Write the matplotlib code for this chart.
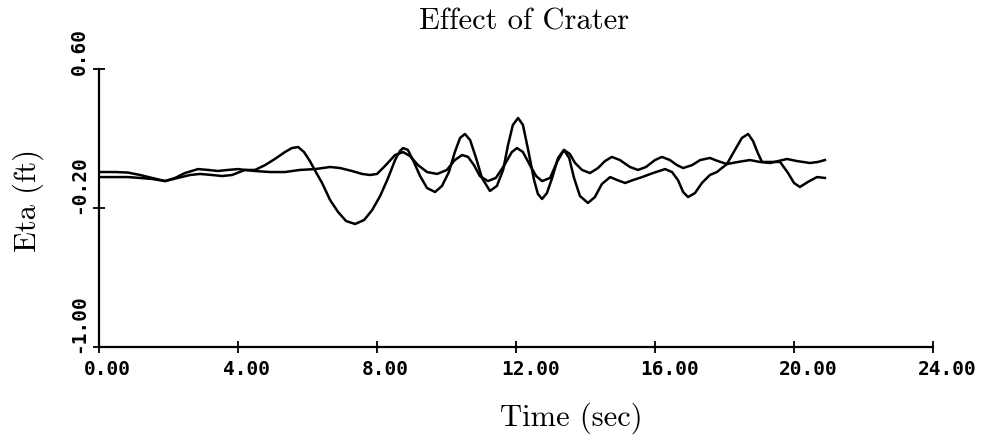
import matplotlib
matplotlib.use("Agg")
import matplotlib.pyplot as plt
from matplotlib.transforms import ScaledTranslation

# time (sec) and surface elevation (ft) for the two runs
t_crater = [0.00, 0.46, 0.83, 1.18, 1.53, 1.90, 2.19, 2.47, 2.85, 3.14, 3.42, 3.71,
            4.00, 4.20, 4.49, 4.78, 5.06, 5.35, 5.55, 5.73, 5.90, 6.07, 6.24, 6.42,
            6.65, 6.88, 7.11, 7.37, 7.63, 7.86, 8.09, 8.32, 8.52, 8.66, 8.75, 8.89,
            9.06, 9.24, 9.44, 9.67, 9.87, 10.07, 10.24, 10.39, 10.53, 10.68, 10.85,
            11.02, 11.25, 11.45, 11.63, 11.77, 11.91, 12.06, 12.20, 12.35, 12.52,
            12.63, 12.75, 12.89, 13.04, 13.21, 13.38, 13.53, 13.67, 13.84, 14.07,
            14.27, 14.47, 14.71, 14.91, 15.14, 15.37, 15.63, 15.94, 16.29, 16.49,
            16.66, 16.81, 16.95, 17.15, 17.35, 17.58, 17.78, 18.07, 18.30, 18.50,
            18.68, 18.82, 18.96, 19.08, 19.31, 19.60, 19.83, 20.00, 20.17, 20.40,
            20.66, 20.89]
eta_crater = [0.007, 0.007, 0.004, -0.010, -0.027, -0.045, -0.027, 0.001, 0.024, 0.019,
              0.013, 0.019, 0.024, 0.019, 0.019, 0.047, 0.082, 0.122, 0.145, 0.151,
              0.122, 0.070, 0.007, -0.056, -0.154, -0.223, -0.275, -0.292, -0.269,
              -0.212, -0.131, -0.027, 0.076, 0.128, 0.145, 0.134, 0.065, -0.016,
              -0.085, -0.108, -0.073, 0.007, 0.122, 0.203, 0.226, 0.191, 0.088,
              -0.027, -0.102, -0.073, 0.019, 0.162, 0.278, 0.318, 0.278, 0.134,
              -0.039, -0.119, -0.148, -0.114, -0.027, 0.088, 0.134, 0.088, -0.027,
              -0.131, -0.171, -0.137, -0.062, -0.022, -0.039, -0.056, -0.039, -0.022,
              0.001, 0.024, 0.007, -0.039, -0.108, -0.137, -0.114, -0.056, -0.010,
              0.007, 0.053, 0.134, 0.203, 0.226, 0.186, 0.116, 0.065, 0.065, 0.065,
              0.001, -0.056, -0.079, -0.050, -0.022, -0.027]

t_flat = [0.00, 0.46, 0.83, 1.18, 1.53, 1.90, 2.27, 2.62, 2.91, 3.25, 3.54, 3.83,
          4.20, 4.49, 4.92, 5.35, 5.78, 6.22, 6.65, 6.94, 7.28, 7.57, 7.80, 8.00,
          8.23, 8.52, 8.75, 8.95, 9.18, 9.44, 9.73, 10.01, 10.24, 10.45, 10.62,
          10.79, 10.96, 11.19, 11.42, 11.65, 11.88, 12.03, 12.20, 12.40, 12.58,
          12.75, 12.98, 13.18, 13.38, 13.55, 13.70, 13.90, 14.13, 14.36, 14.56,
          14.76, 14.99, 15.28, 15.51, 15.74, 16.00, 16.20, 16.43, 16.63, 16.81,
          17.07, 17.30, 17.58, 17.81, 18.07, 18.39, 18.73, 19.02, 19.31, 19.54,
          19.80, 20.09, 20.46, 20.69, 20.89]
eta_flat = [-0.022, -0.022, -0.022, -0.027, -0.033, -0.045, -0.027, -0.010, -0.004,
            -0.010, -0.016, -0.010, 0.019, 0.013, 0.007, 0.007, 0.019, 0.024, 0.036,
            0.030, 0.013, -0.004, -0.010, -0.004, 0.042, 0.105, 0.122, 0.099, 0.047,
            0.007, -0.004, 0.019, 0.076, 0.105, 0.094, 0.047, -0.016, -0.045, -0.027,
            0.042, 0.122, 0.145, 0.122, 0.047, -0.016, -0.045, -0.027, 0.065, 0.134,
            0.111, 0.059, 0.019, 0.001, 0.030, 0.070, 0.094, 0.076, 0.036, 0.019,
            0.036, 0.076, 0.094, 0.076, 0.047, 0.030, 0.047, 0.076, 0.088, 0.070,
            0.053, 0.065, 0.076, 0.065, 0.059, 0.070, 0.082, 0.070, 0.059, 0.065,
            0.076]

x_ticks = [0, 4, 8, 12, 16, 20, 24]
x_tick_labels = ["0.00", "4.00", "8.00", "12.00", "16.00", "20.00", "24.00"]
y_ticks = [-1.0, -0.2, 0.6]
y_tick_labels = ["-1.00", "-0.20", "0.60"]

serif = ["cmr10", "Liberation Serif", "DejaVu Serif"]
mono = "DejaVu Sans Mono"

fig = plt.figure(figsize=(9.91, 4.44), dpi=100)
ax = fig.add_axes([99 / 991, 1 - 347 / 444, (933 - 99) / 991, (347 - 69) / 444])

ax.plot(t_crater, eta_crater, color="black", lw=1.8, solid_joinstyle="round")
ax.plot(t_flat, eta_flat, color="black", lw=1.8, solid_joinstyle="round")

ax.set_xlim(0, 24)
ax.set_ylim(-1.0, 0.6)
for side in ("top", "right"):
    ax.spines[side].set_visible(False)
for side in ("left", "bottom"):
    ax.spines[side].set_linewidth(1.6)

ax.set_xticks(x_ticks)
ax.set_xticklabels(x_tick_labels, fontfamily=mono, fontweight="bold", fontsize=14)
ax.set_yticks(y_ticks)
ax.set_yticklabels(y_tick_labels, fontfamily=mono, fontweight="bold", fontsize=14)
ax.tick_params(direction="inout", length=9, width=1.3)
ax.tick_params(axis="x", pad=5)
ax.tick_params(axis="y", pad=3)

# plotter-style label placement: x labels start left of the tick,
# y labels run upward from just below the tick
for lab in ax.get_xticklabels():
    lab.set_ha("left")
    lab.set_transform(lab.get_transform() + ScaledTranslation(-15 / 100, 0, fig.dpi_scale_trans))
for lab in ax.get_yticklabels():
    lab.set_rotation(90)
    lab.set_va("bottom")
    lab.set_ha("right")
    lab.set_transform(lab.get_transform() + ScaledTranslation(0, -6 / 100, fig.dpi_scale_trans))

fig.text(524 / 991, 1 - 22 / 444, "Effect of Crater", family=serif, fontsize=22,
         ha="center", va="center")
fig.text(571 / 991, 1 - 418 / 444, "Time (sec)", family=serif, fontsize=22,
         ha="center", va="center")
fig.text(28 / 991, 1 - 200 / 444, "Eta (ft)", family=serif, fontsize=22,
         rotation=90, ha="center", va="center")

fig.savefig("out.png", dpi=100)
